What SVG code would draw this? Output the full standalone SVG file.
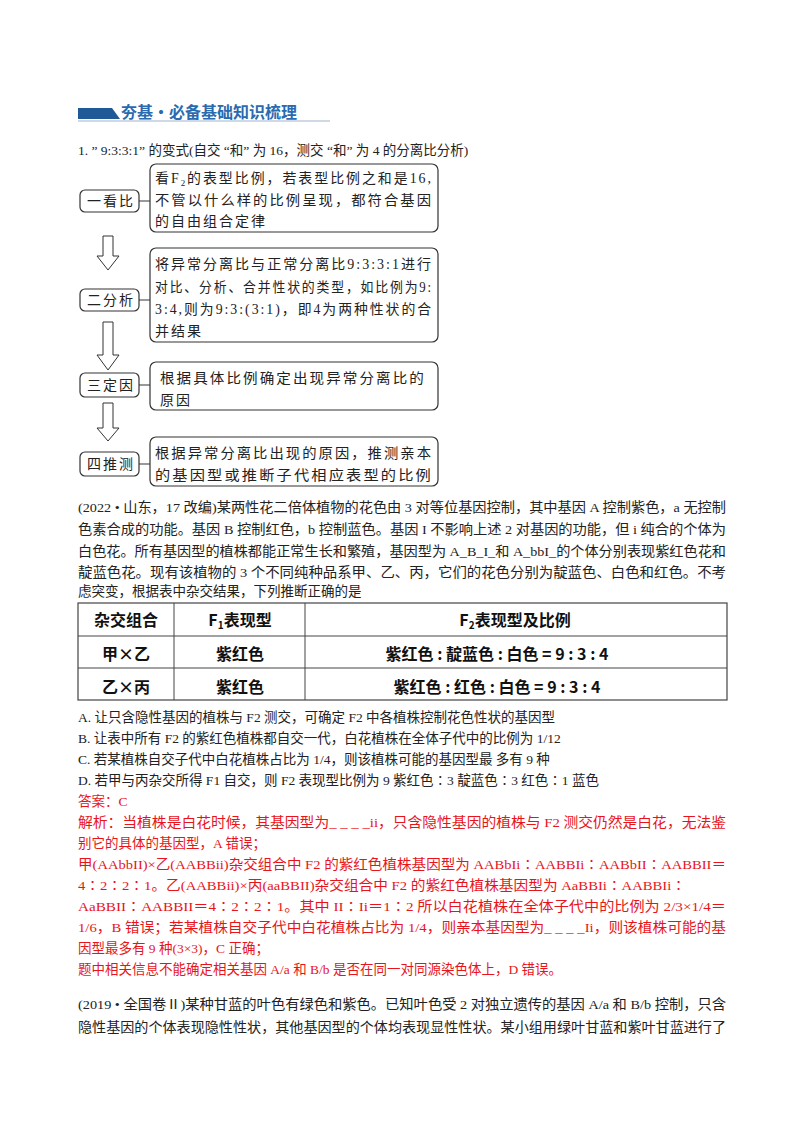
<svg xmlns="http://www.w3.org/2000/svg" width="800" height="1132" viewBox="0 0 800 1132">
<style>
text{font-family:"Liberation Serif","Noto Sans CJK SC",serif;font-size:13.5px;fill:#222}
.r{fill:#e8141b}
.lb{font-size:14px;letter-spacing:2px}
.bx{fill:#fff;stroke:#333;stroke-width:1.2}
.ar{fill:#fff;stroke:#333;stroke-width:1}
.th{font-family:"Noto Sans CJK SC",sans-serif;font-weight:bold;font-size:16px;fill:#111}
.ln{stroke:#555;stroke-width:1.2}
</style>
<rect width="800" height="1132" fill="#fff"/>
<g id="header">
<polygon points="78,108 112,108 120,119 78,119" fill="#1f5a96"/>
<line x1="78" y1="121" x2="330" y2="121" stroke="#cfd8e6" stroke-width="2"/>
<text x="121" y="118" style="font-family:'Noto Sans CJK SC',sans-serif;font-weight:bold;font-size:16px;fill:#2a6bb0">夯基·必备基础知识梳理</text>
</g>
<text x="78" y="155">1. ” 9:3:3:1” 的变式(自交 “和” 为 16，测交 “和” 为 4 的分离比分析)</text>
<g id="connectors">
<line x1="139" y1="201" x2="150" y2="201" class="ln"/>
<line x1="139" y1="300" x2="150" y2="300" class="ln"/>
<line x1="139" y1="385" x2="150" y2="385" class="ln"/>
<line x1="139" y1="464" x2="150" y2="464" class="ln"/>
<polygon class="ar" points="103,236 113,236 113,256 119,256 108,270 97,256 103,256"/>
<polygon class="ar" points="103,322 113,322 113,355 119,355 108,370 97,355 103,355"/>
<polygon class="ar" points="103,403 113,403 113,428 119,428 108,441 97,428 103,428"/>
</g>
<g id="n1"><rect class="bx" x="80" y="190" width="59" height="22" rx="5"/><text class="lb" x="87" y="206">一看比</text></g>
<g id="d1"><rect class="bx" x="150" y="164" width="288" height="68" rx="6"/>
<text class="lb" x="155" y="183" textLength="278" lengthAdjust="spacingAndGlyphs">看F<tspan font-size="9" dy="3">2</tspan><tspan dy="-3">的表型比例，若表型比例之和是16,</tspan></text>
<text class="lb" x="155" y="205" textLength="278" lengthAdjust="spacingAndGlyphs">不管以什么样的比例呈现，都符合基因</text>
<text class="lb" x="155" y="226">的自由组合定律</text></g>
<g id="n2"><rect class="bx" x="80" y="289" width="59" height="22" rx="5"/><text class="lb" x="87" y="305">二分析</text></g>
<g id="d2"><rect class="bx" x="150" y="248" width="288" height="94" rx="6"/>
<text class="lb" x="155" y="269" textLength="278" lengthAdjust="spacingAndGlyphs">将异常分离比与正常分离比9:3:3:1进行</text>
<text class="lb" x="155" y="292" textLength="278" lengthAdjust="spacingAndGlyphs">对比、分析、合并性状的类型，如比例为9:</text>
<text class="lb" x="155" y="314" textLength="278" lengthAdjust="spacingAndGlyphs">3:4,则为9:3:(3:1)，即4为两种性状的合</text>
<text class="lb" x="155" y="336">并结果</text></g>
<g id="n3"><rect class="bx" x="80" y="373" width="59" height="24" rx="5"/><text class="lb" x="87" y="390">三定因</text></g>
<g id="d3"><rect class="bx" x="150" y="362" width="288" height="48" rx="6"/>
<text class="lb" x="160" y="383" textLength="266" lengthAdjust="spacingAndGlyphs">根据具体比例确定出现异常分离比的</text>
<text class="lb" x="160" y="405">原因</text></g>
<g id="n4"><rect class="bx" x="80" y="452" width="59" height="24" rx="5"/><text class="lb" x="87" y="469">四推测</text></g>
<g id="d4"><rect class="bx" x="150" y="437" width="288" height="49" rx="6"/>
<text class="lb" x="155" y="458" textLength="278" lengthAdjust="spacingAndGlyphs">根据异常分离比出现的原因，推测亲本</text>
<text class="lb" x="155" y="480" textLength="278" lengthAdjust="spacingAndGlyphs">的基因型或推断子代相应表型的比例</text></g>
<g id="para">
<text x="78" y="512" textLength="648" lengthAdjust="spacingAndGlyphs">(2022 • 山东，17 改编)某两性花二倍体植物的花色由 3 对等位基因控制，其中基因 A 控制紫色，a 无控制</text>
<text x="78" y="534" textLength="648" lengthAdjust="spacingAndGlyphs">色素合成的功能。基因 B 控制红色，b 控制蓝色。基因 I 不影响上述 2 对基因的功能，但 i 纯合的个体为</text>
<text x="78" y="556" textLength="648" lengthAdjust="spacingAndGlyphs">白色花。所有基因型的植株都能正常生长和繁殖，基因型为 A_B_I_和 A_bbI_的个体分别表现紫红色花和</text>
<text x="78" y="577" textLength="648" lengthAdjust="spacingAndGlyphs">靛蓝色花。现有该植物的 3 个不同纯种品系甲、乙、丙，它们的花色分别为靛蓝色、白色和红色。不考</text>
<text x="78" y="596">虑突变，根据表中杂交结果，下列推断正确的是</text>
</g>
<g id="table">
<rect x="78" y="603" width="649" height="97" fill="none" stroke="#444" stroke-width="1.2"/>
<line x1="78" y1="636" x2="727" y2="636" stroke="#444"/>
<line x1="78" y1="668" x2="727" y2="668" stroke="#444"/>
<line x1="174" y1="603" x2="174" y2="700" stroke="#444"/>
<line x1="305" y1="603" x2="305" y2="700" stroke="#444"/>
<text class="th" x="126" y="626" text-anchor="middle">杂交组合</text>
<text class="th" x="240" y="626" text-anchor="middle">F<tspan font-size="10" dy="3">1</tspan><tspan dy="-3">表现型</tspan></text>
<text class="th" x="515" y="626" text-anchor="middle">F<tspan font-size="10" dy="3">2</tspan><tspan dy="-3">表现型及比例</tspan></text>
<text class="th" x="126" y="660" text-anchor="middle">甲×乙</text>
<text class="th" x="240" y="660" text-anchor="middle">紫红色</text>
<text class="th" x="497" y="660" text-anchor="middle">紫红色 : 靛蓝色 : 白色 = 9 : 3 : 4</text>
<text class="th" x="126" y="693" text-anchor="middle">乙×丙</text>
<text class="th" x="240" y="693" text-anchor="middle">紫红色</text>
<text class="th" x="497" y="693" text-anchor="middle">紫红色 : 红色 : 白色 = 9 : 3 : 4</text>
</g>
<g id="options">
<text x="78" y="722">A. 让只含隐性基因的植株与 F2 测交，可确定 F2 中各植株控制花色性状的基因型</text>
<text x="78" y="743">B. 让表中所有 F2 的紫红色植株都自交一代，白花植株在全体子代中的比例为 1/12</text>
<text x="78" y="764">C. 若某植株自交子代中白花植株占比为 1/4，则该植株可能的基因型最  多有 9 种</text>
<text x="78" y="785">D. 若甲与丙杂交所得 F1 自交，则 F2 表现型比例为 9 紫红色∶3 靛蓝色∶3 红色∶1 蓝色</text>
</g>
<g id="answer">
<text class="r" x="78" y="806">答案：C</text>
<text class="r" x="78" y="827" textLength="648" lengthAdjust="spacingAndGlyphs">解析：当植株是白花时候，其基因型为_ _ _ _ii，只含隐性基因的植株与 F2 测交仍然是白花，无法鉴</text>
<text class="r" x="78" y="848">别它的具体的基因型，A 错误；</text>
<text class="r" x="78" y="869" textLength="648" lengthAdjust="spacingAndGlyphs">甲(AAbbII)×乙(AABBii)杂交组合中 F2 的紫红色植株基因型为 AABbIi∶AABBIi∶AABbII∶AABBII＝</text>
<text class="r" x="78" y="890" textLength="608" lengthAdjust="spacingAndGlyphs">4∶2∶2∶1。乙(AABBii)×丙(aaBBII)杂交组合中 F2 的紫红色植株基因型为 AaBBIi∶AABBIi∶</text>
<text class="r" x="78" y="911" textLength="648" lengthAdjust="spacingAndGlyphs">AaBBII∶AABBII＝4∶2∶2∶1。其中 II∶Ii＝1∶2 所以白花植株在全体子代中的比例为 2/3×1/4＝</text>
<text class="r" x="78" y="932" textLength="648" lengthAdjust="spacingAndGlyphs">1/6，B 错误；若某植株自交子代中白花植株占比为 1/4，则亲本基因型为_ _ _ _Ii，则该植株可能的基</text>
<text class="r" x="78" y="953">因型最多有 9 种(3×3)，C 正确；</text>
<text class="r" x="78" y="974">题中相关信息不能确定相关基因 A/a 和 B/b 是否在同一对同源染色体上，D 错误。</text>
</g>
<g id="next">
<text x="78" y="1009" textLength="648" lengthAdjust="spacingAndGlyphs">(2019 • 全国卷Ⅱ)某种甘蓝的叶色有绿色和紫色。已知叶色受 2 对独立遗传的基因 A/a 和 B/b 控制，只含</text>
<text x="78" y="1032" textLength="648" lengthAdjust="spacingAndGlyphs">隐性基因的个体表现隐性性状，其他基因型的个体均表现显性性状。某小组用绿叶甘蓝和紫叶甘蓝进行了</text>
</g>
</svg>
